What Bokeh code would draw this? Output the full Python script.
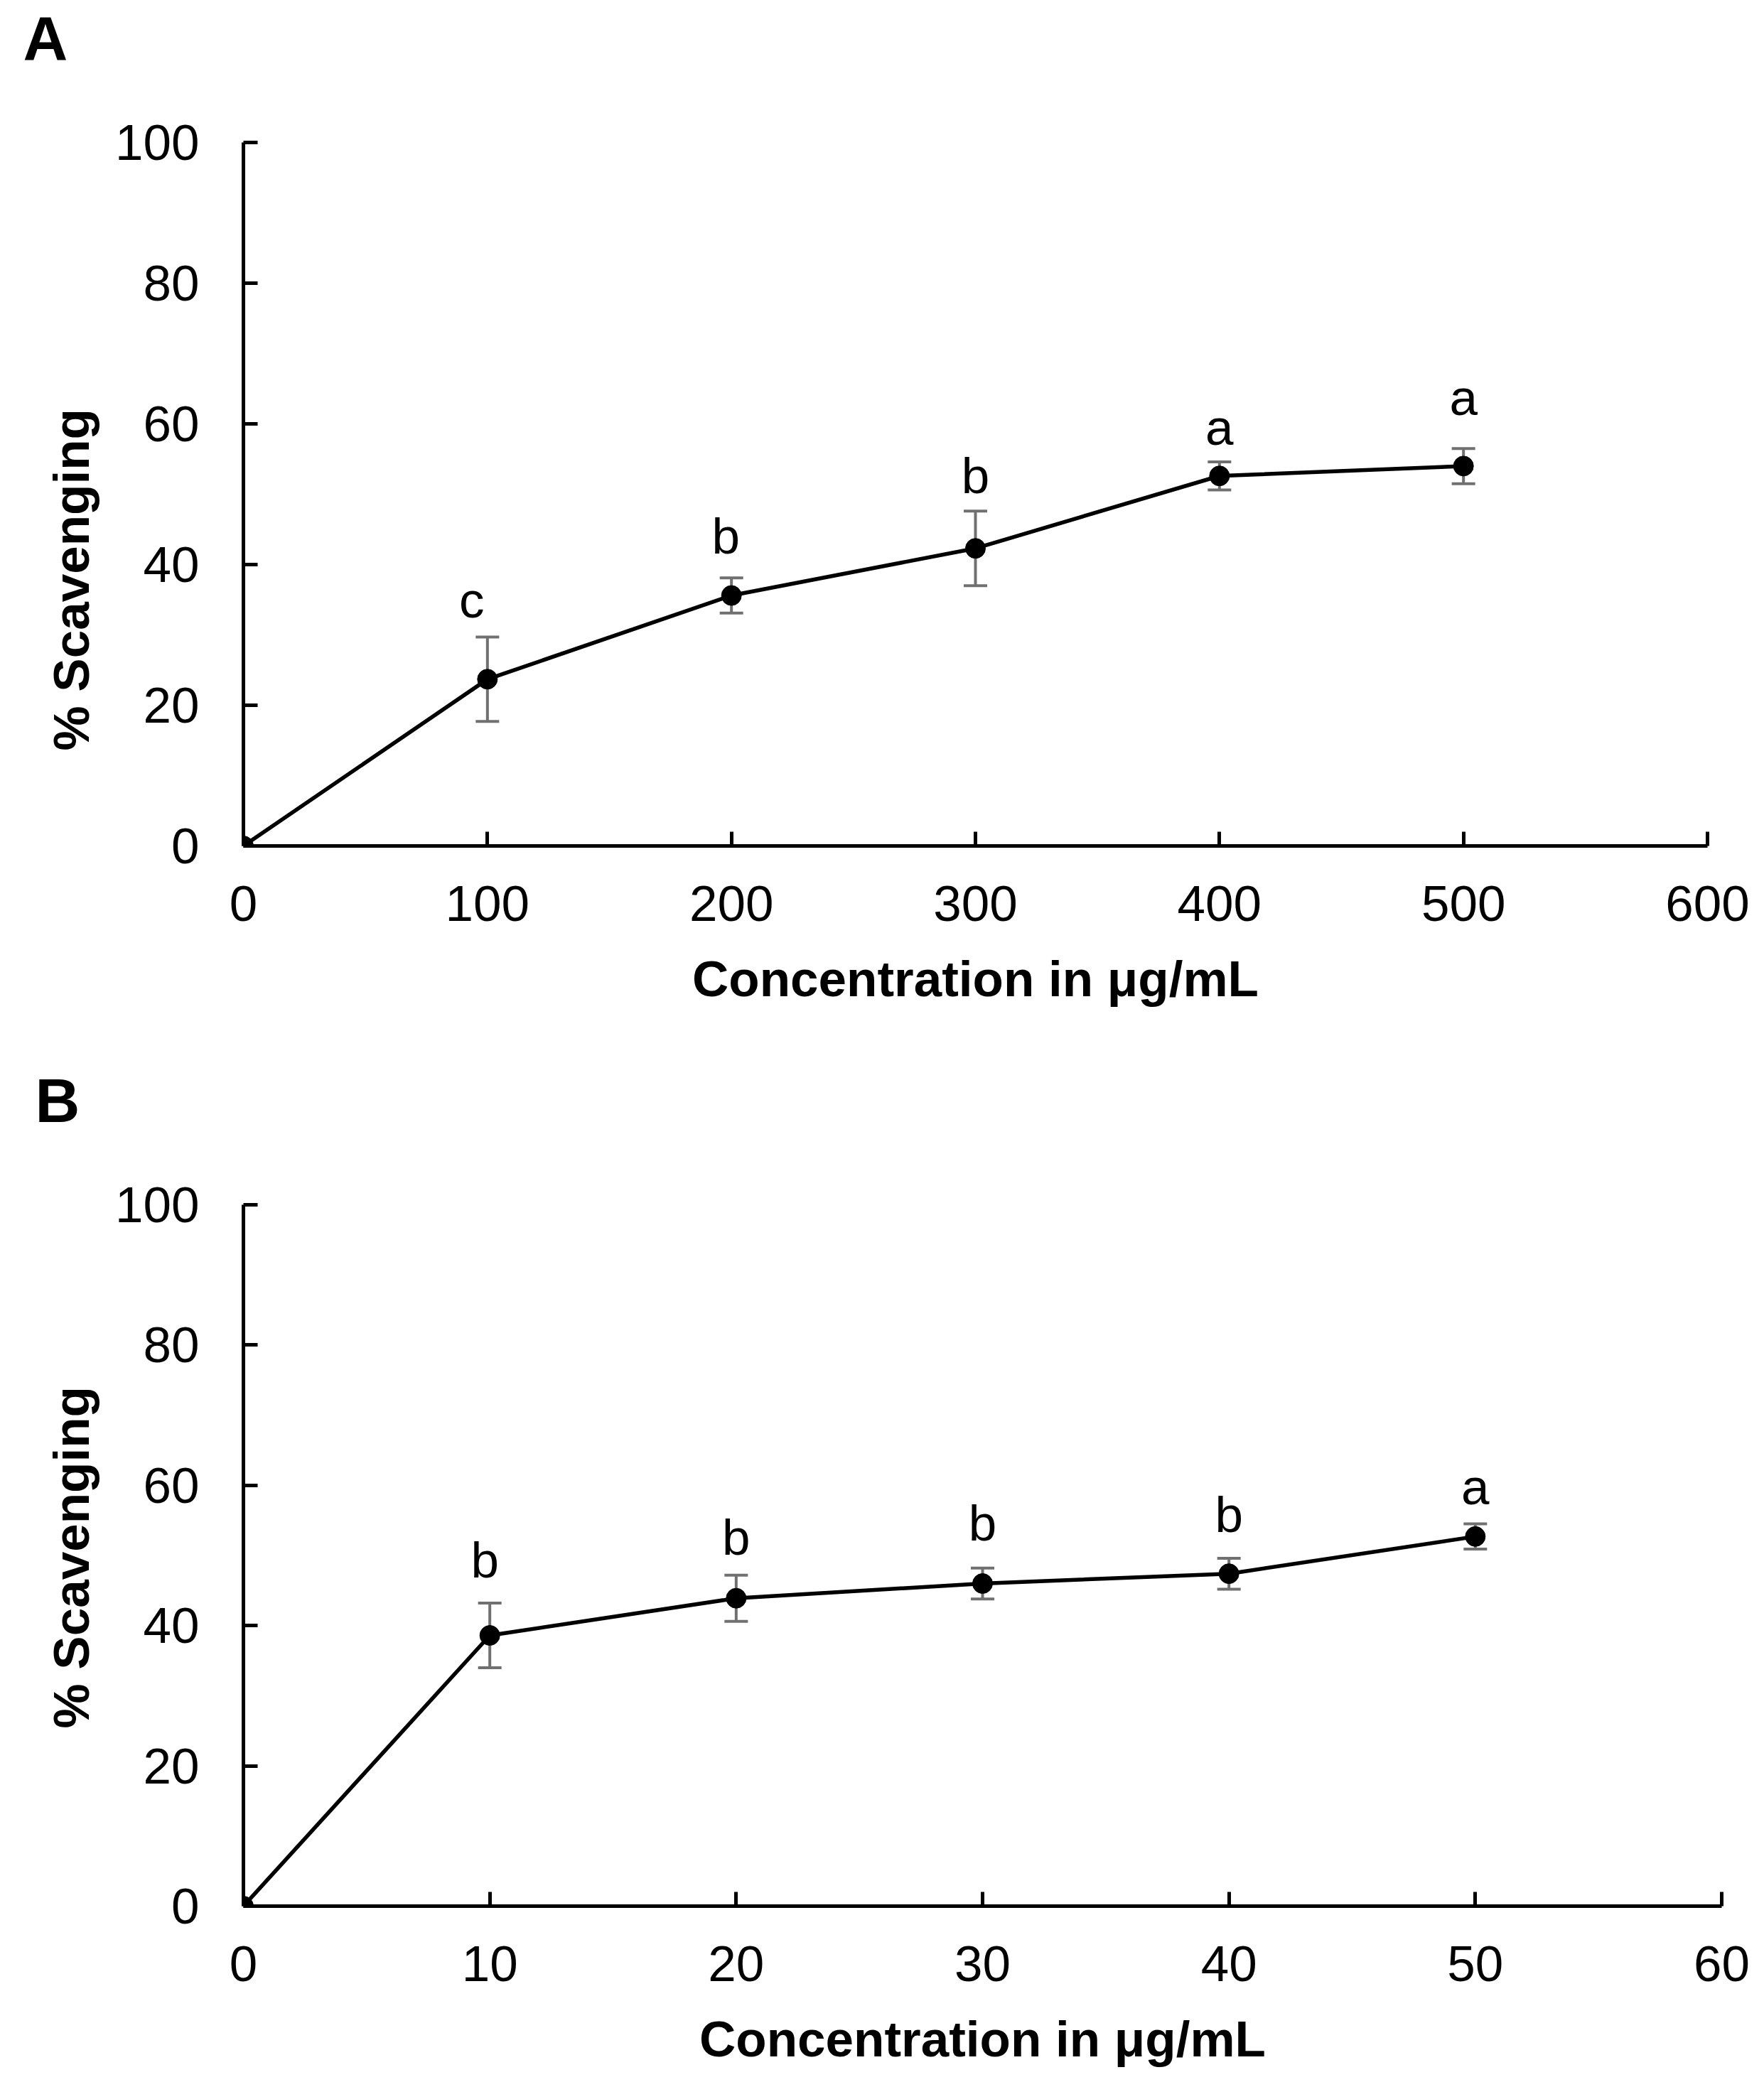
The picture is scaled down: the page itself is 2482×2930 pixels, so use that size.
from bokeh.plotting import figure
from bokeh.models import Range1d, FixedTicker, Whisker, TeeHead, ColumnDataSource, Title
from bokeh.core.properties import value
from bokeh.embed import file_html
from bokeh.resources import INLINE

# ---------------- data ----------------
conc_a = [0, 100, 200, 300, 400, 500]
scav_a = [0.0, 23.7, 35.6, 42.3, 52.6, 54.0]
err_a = [0.0, 6.0, 2.5, 5.3, 2.0, 2.5]
letters_a = ["", "c", "b", "b", "a", "a"]
letter_y_a = [0.0, 35.0, 44.0, 52.6, 59.5, 63.7]
letter_dx_a = [0, -22, -8, 0, 0, 0]
xticks_a = [0, 100, 200, 300, 400, 500, 600]

conc_b = [0, 10, 20, 30, 40, 50]
scav_b = [0.0, 38.6, 43.9, 46.0, 47.4, 52.7]
err_b = [0.0, 4.6, 3.3, 2.2, 2.2, 1.8]
letters_b = ["", "b", "b", "b", "b", "a"]
letter_y_b = [0.0, 49.3, 52.6, 54.6, 55.8, 59.8]
letter_dx_b = [0, -7, 0, 0, 0, 0]
xticks_b = [0, 10, 20, 30, 40, 50, 60]

yticks = [0, 20, 40, 60, 80, 100]

FONT = "Liberation Sans"
AX_COL = "#000000"
ERR_COL = "#707070"


def make_panel(conc, scav, err, letters, letter_y, letter_dx, xticks, panel_letter,
               height, border_top, border_bottom, border_right,
               letter_offset, letter_standoff, ytitle_offset):
    # the trailing blank line gives the title box the height it needs so the
    # letter sits near the top edge of the figure, as in the original figure
    p = figure(width=2466, height=height, output_backend="svg", toolbar_location=None,
               x_range=Range1d(xticks[0], xticks[-1]), y_range=Range1d(0, 100),
               min_border_left=342, min_border_right=border_right,
               min_border_top=border_top, min_border_bottom=border_bottom,
               title=panel_letter + "\n ")
    p.outline_line_color = None
    p.background_fill_color = "white"
    p.border_fill_color = "white"
    p.xgrid.visible = False
    p.ygrid.visible = False

    p.title.align = "left"
    p.title.vertical_align = "top"
    p.title.offset = letter_offset
    p.title.standoff = letter_standoff
    p.title.text_line_height = 1.0
    p.title.text_font = FONT
    p.title.text_font_style = "bold"
    p.title.text_font_size = "87px"
    p.title.text_color = "black"

    for ax, ticks in ((p.xaxis[0], xticks), (p.yaxis[0], yticks)):
        ax.ticker = FixedTicker(ticks=ticks)
        ax.axis_line_color = AX_COL
        ax.axis_line_width = 5
        ax.major_tick_line_color = AX_COL
        ax.major_tick_line_width = 5
        ax.major_tick_in = 20
        ax.major_tick_out = 0
        ax.minor_tick_line_color = None
        ax.major_label_text_font = FONT
        ax.major_label_text_font_size = "71px"
        ax.major_label_text_color = "#000000"

    p.xaxis.major_label_standoff = 56
    p.yaxis.major_label_standoff = 62
    p.xaxis.axis_label = "Concentration in \u03bcg/mL"
    p.xaxis.axis_label_text_font = FONT
    p.xaxis.axis_label_text_font_style = "bold"
    p.xaxis.axis_label_text_font_size = "71px"
    p.xaxis.axis_label_text_color = "#000000"
    p.xaxis.axis_label_standoff = 39

    ytitle = Title(text="% Scavenging", align="left", offset=ytitle_offset, standoff=40,
                   text_font=FONT, text_font_style="bold", text_font_size="71px",
                   text_color="black")
    p.add_layout(ytitle, "left")

    # error bars (drawn beneath line and markers)
    ex = [c for c, e in zip(conc, err) if e > 0]
    lo = [s - e for s, e in zip(scav, err) if e > 0]
    hi = [s + e for s, e in zip(scav, err) if e > 0]
    esrc = ColumnDataSource(dict(x=ex, lo=lo, hi=hi))
    w = Whisker(source=esrc, base="x", lower="lo", upper="hi", dimension="height",
                line_color=ERR_COL, line_width=4, level="underlay",
                upper_head=TeeHead(size=33, line_color=ERR_COL, line_width=4),
                lower_head=TeeHead(size=33, line_color=ERR_COL, line_width=4))
    p.add_layout(w)

    p.line(conc, scav, line_color="black", line_width=5.5)
    p.scatter(conc, scav, size=28, fill_color="black", line_color="black")

    tsrc = ColumnDataSource(dict(x=conc[1:], y=letter_y[1:], t=letters[1:], dx=letter_dx[1:]))
    p.text(x="x", y="y", text="t", x_offset="dx", source=tsrc,
           text_font=value(FONT), text_font_size="71px", text_color="black",
           text_align="center", text_baseline="alphabetic")
    return p


pa = make_panel(conc_a, scav_a, err_a, letters_a, letter_y_a, letter_dx_a, xticks_a, "A",
                height=1460, border_top=200, border_bottom=270, border_right=64,
                letter_offset=-310, letter_standoff=0, ytitle_offset=134)
pb = make_panel(conc_b, scav_b, err_b, letters_b, letter_y_b, letter_dx_b, xticks_b, "B",
                height=1454, border_top=235, border_bottom=232, border_right=44,
                letter_offset=-293, letter_standoff=0, ytitle_offset=250)

open("out.html", "w").write(file_html([pa, pb], INLINE))
